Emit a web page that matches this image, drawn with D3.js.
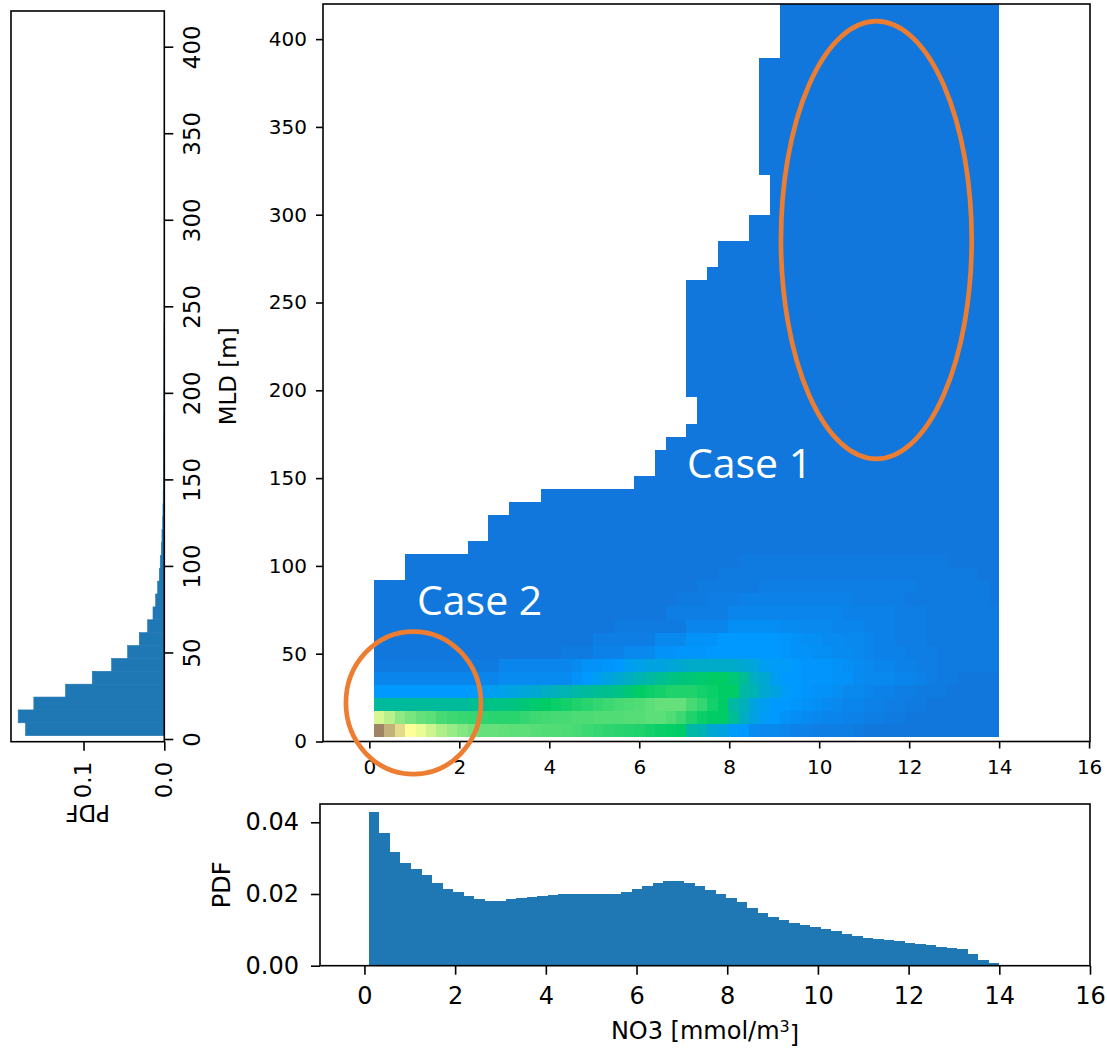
<!DOCTYPE html>
<html><head><meta charset="utf-8">
<script src="https://cdn.jsdelivr.net/npm/d3@7"></script>
<style>body{margin:0;background:#fff}svg{display:block}</style>
</head><body>
<svg id="fig" width="1107" height="1048"></svg>
<script>
// ---------------- DATA ----------------
// NO3 bins (x): 60 bins from 0.1 to 14.0 mmol/m3
const no3BinStart = 0.1, no3BinWidth = 13.9 / 60, no3BinCount = 60;
// MLD bins (y): 57 bins starting at 2.5 m
const mldBinStart = 2.5, mldBinWidth = 7.44, mldBinCount = 57;

// bottom histogram: PDF per NO3 bin
const no3Pdf = [0.0429,0.0370,0.0316,0.0287,0.0269,0.0253,0.0232,0.0214,0.0205,0.0195,
  0.0187,0.0181,0.0181,0.0186,0.0189,0.0192,0.0195,0.0197,0.0199,0.0199,
  0.0199,0.0199,0.0199,0.0201,0.0206,0.0214,0.0221,0.0230,0.0235,0.0235,
  0.0230,0.0222,0.0211,0.0199,0.0190,0.0177,0.0161,0.0146,0.0135,0.0127,
  0.0118,0.0113,0.0107,0.0102,0.0096,0.0088,0.0082,0.0078,0.0075,0.0072,
  0.0068,0.0064,0.0061,0.0057,0.0053,0.0049,0.0046,0.0033,0.0016,0.0008];

// left histogram: PDF per MLD bin
const mldPdf = [0.1718,0.1809,0.1615,0.1222,0.0892,0.0652,0.0454,0.0310,0.0206,0.0140,
  0.0107,0.0082,0.0062,0.0050,0.0037,0.0029,0.0021,0.0017,0.0014,0.0012,
  0.0010,0.0009,0.0008,0.0007,0.0006,0.0005,0.0005,0.0004,0.0004,0.0004,0.0003,0.0003];

// first occupied NO3 bin in every MLD row (white area to the left)
const rowStartCol = [0,0,0,0,0,0,0,0,0,0, 0,0,3,3,9,11,11,13,16,25,
  27,27,28,30,31,31,30,30,30,30, 30,30,30,30,30,32,33,33,36,36,
  38,38,38,37,37,37,37,37,37,37, 37,37,39,39,39,39,39];

// colour level (x100, terrain colormap position) for the lowest MLD rows
const heatRows = [
 [69,62,55.5,50,48,45,42,40,38,36.5, 35,35,34.5,34,34,33.5,33,33,32.5,32, 31,30,29.5,29,28.5,28,27,26,25.5,25, 21,20,18,17,15.5,15,13,12.5,12.5,12, 11.5,11.5,11,11,11,11,10.5,10,10,10, 10,10,10,10,10,10,10,10,10,10],
 [46,43,39,37,35,34,32,31,30.5,30, 29.5,29,29,29,30,31,31.5,32,32,32.5, 32.5,33,33,33,33.5,33.5,34,34,33,31, 28,26,25,25,22,19,17,15.5,15,14, 13.5,13,12.5,12,12,11.5,11.5,11,11,10.5, 10.5,10,10,10,10,10,10,10,10,10],
 [21.5,21.5,21.5,21.5,21.5,21.5,21.5,21.5,21.5,22, 22.5,23,23,23.5,24,24.5,25,26,27,28, 29,30,31,32,32.5,33,34,35,35,35, 32,30,27,25,21,19.5,17,16,15,15, 14.5,14,13.5,13,12.5,12,12,11.5,11.5,11, 11,10.5,10.5,10,10,10,10,10,10,10],
 [15,15,15,15,15,15,15,15,15,15, 15.5,16,16.5,17,17.5,18,19,19.5,20,21, 21.5,22,22.5,23,24,25,26,27,28,28, 28,27,26,25,25,21,20,18,17,15.5, 15,14.5,14,14,13.5,12.5,12.5,12,11.5,11.5, 11,11,10.5,10.5,10.5,10,10,10,10,10],
 [12,12,12,12,12,12,12,12,12,12, 12,12,13,13,13,13,13,13,13,14, 15,16,17,18,19,20,21,22,23,23.5, 24,24.5,25,25,24,22,19,18,16,15, 15,14.5,14.5,14.5,14,14,13,12.5,12.5,12.5, 12,12,11.5,11,10.5,10.5,10,10,10,10],
 [10.5,10.5,10.5,10.5,10.5,10.5,10.5,10.5,10.5,10.5, 10.5,10.5,12,12,12,12,12,12,12,13, 14,14,14.5,15,16,16.5,17,17,17.5,18, 18.5,18.5,18.5,18.5,18.5,18,17.5,16,15.5,15.5, 15,14.5,14.5,14.5,14,13.5,13,12.5,12,12, 11.5,11.5,11,11,10.5,10.5,10.5,10.5,10.5,10.5],
 [10,10,10,10,10,10,10,10,10,10, 10,10,10,10,10,10,10,10,10.5,10.5, 10.5,11.5,11.5,11.5,12.5,12.5,12.5,14,14,14.5, 14.5,14.5,15,15,15,15,15,15,15,14.5, 14,14,13.5,13.5,13,13,12.5,12,11.5,11.5, 11.5,11,11,11,10.5,10.5,10.5,10.5,10.5,10.5],
 [10,10,10,10,10,10,10,10,10,10, 10,10,10,10,10,10,10,10,10,10, 10,11,11,11,11,11,11,12.5,12.5,12.5, 14,14,14,15,15,15,15,15,15,14.5, 14,13.5,13.5,13,13,12.5,12.5,12,11.5,11.5, 11,11,11,10.5,10.5,10.5,10.5,10.5,10.5,10.5],
 [10,10,10,10,10,10,10,10,10,10, 10,10,10,10,10,10,10,10,10,10, 10,10,10,10.5,10.5,10.5,10.5,10.5,10.5,10.5, 12,12,12,12,13.5,13.5,13.5,13.5,13.5,13, 13,12.5,12.5,12.5,12,12,12,11.5,11.5,11.5, 11,11,11,10.5,10.5,10.5,10.5,10.5,10.5,10.5],
 [10,10,10,10,10,10,10,10,10,10, 10,10,10,10,10,10,10,10,10,10, 10,10,10,10,10,10,10,10,11,11, 11,11,11,11,12,12,12,12,12,12, 12,12,12,12,12,11.5,11.5,11.5,11.5,11.5, 11,11,11,10.5,10.5,10.5,10.5,10.5,10.5,10.5],
 [10,10,10,10,10,10,10,10,10,10, 10,10,10,10,10,10,10,10,10,10, 10,10,10,10,10,10,10,10,10,10.5, 10.5,10.5,11,11,11,11.5,11.5,11.5,11.5,11.5, 11.5,11.5,11.5,11.5,11.5,11.5,11,11,11,11, 11,10.5,10.5,10.5,10.5,10.5,10.5,10.5,10.5,10],
 [10,10,10,10,10,10,10,10,10,10, 10,10,10,10,10,10,10,10,10,10, 10,10,10,10,10,10,10,10,10,10, 10,10.5,10.5,10.5,10.5,10.5,10.5,11,11,11, 11,11,11,11,11,11,11,11,11,11, 11,11,10.5,10.5,10.5,10.5,10.5,10.5,10.5,10],
 [10,10,10,10,10,10,10,10,10,10, 10,10,10,10,10,10,10,10,10,10, 10,10,10,10,10,10,10,10,10,10, 10,10,10,10.5,10.5,10.5,10.5,10.5,10.5,10.5, 10.5,10.5,10.5,10.5,10.5,10.5,10.5,10.5,10.5,10.5, 10.5,10.5,10.5,10.5,10.5,10.5,10.5,10.5,10,10],
 [10,10,10,10,10,10,10,10,10,10, 10,10,10,10,10,10,10,10,10,10, 10,10,10,10,10,10,10,10,10,10, 10,10,10,10,10,10.5,10.5,10.5,10.5,10.5, 10.5,10.5,10.5,10.5,10.5,10.5,10.5,10.5,10.5,10.5, 10.5,10.5,10.5,10.5,10.5,10,10,10,10,10]
];
const upperLevel = 10; // all higher rows

const no3Ticks = [0,2,4,6,8,10,12,14,16];
const mldTicks = [0,50,100,150,200,250,300,350,400];
const no3PdfTicks = [0,0.02,0.04];
const mldPdfTicks = [0,0.1];

const caseLabels = [
  {text: "Case 1", no3: 7.06, mld: 149.9},
  {text: "Case 2", no3: 1.06, mld: 71.9}
];
const caseEllipses = [
  {no3: 11.27, mld: 285.6, rNo3: 2.12, rMld: 124.6},
  {no3: 0.98, mld: 22.0, rNo3: 1.50, rMld: 40.6}
];

// ---------------- LAYOUT / STYLE ----------------
const FONT = "'DejaVu Sans', sans-serif";
const BAR = "#1f77b4";
const ORANGE = "#ED7D31";
const M = {left: 323, top: 4, right: 1090, bottom: 741.5};
const B = {left: 320, top: 804, right: 1090, bottom: 965.7};
const L = {left: 11, top: 11, right: 164.3, bottom: 741.7};

const svg = d3.select("#fig");

const terrain = d3.scaleLinear()
  .domain([0, 0.15, 0.25, 0.5, 0.75, 1])
  .range(["#333399", "#0099ff", "#00cc66", "#ffff99", "#805c54", "#ffffff"])
  .interpolate(d3.interpolateRgb).clamp(true);

function styleAxis(g, fs) {
  g.select(".domain").remove();
  g.selectAll(".tick line").attr("stroke", "#000").attr("stroke-width", 1.6);
  g.selectAll(".tick text").attr("fill", "#000")
    .style("font-family", FONT).style("font-size", fs + "px");
}
function frame(g, x, y, w, h) {
  g.append("rect").attr("x", x).attr("y", y).attr("width", w).attr("height", h)
    .attr("fill", "none").attr("stroke", "#000").attr("stroke-width", 1.6);
}

// ---------------- MAIN HEATMAP ----------------
const xM = d3.scaleLinear().domain([-1.03, 16.02]).range([M.left, M.right]);
const yM = d3.scaleLinear().domain([0, 420]).range([M.bottom, M.top]);

svg.append("defs").append("clipPath").attr("id", "clipMain")
  .append("rect").attr("x", M.left).attr("y", M.top)
  .attr("width", M.right - M.left).attr("height", M.bottom - M.top);

const cells = [];
for (let k = 0; k < mldBinCount; k++) {
  for (let j = rowStartCol[k]; j < no3BinCount; j++) {
    const level = k < heatRows.length ? heatRows[k][j] : upperLevel;
    cells.push({k, j, level});
  }
}
svg.append("g").attr("clip-path", "url(#clipMain)")
  .selectAll("rect").data(cells).join("rect")
  .attr("x", d => xM(no3BinStart + d.j * no3BinWidth))
  .attr("width", d => xM(no3BinStart + (d.j + 1) * no3BinWidth) - xM(no3BinStart + d.j * no3BinWidth))
  .attr("y", d => yM(mldBinStart + (d.k + 1) * mldBinWidth))
  .attr("height", d => yM(mldBinStart + d.k * mldBinWidth) - yM(mldBinStart + (d.k + 1) * mldBinWidth))
  .attr("fill", d => terrain(d.level / 100))
  .attr("shape-rendering", "crispEdges");

frame(svg, M.left, M.top, M.right - M.left, M.bottom - M.top);
svg.append("g").attr("transform", `translate(0,${M.bottom})`)
  .call(d3.axisBottom(xM).tickValues(no3Ticks).tickFormat(d3.format("d")).tickSize(7).tickPadding(11))
  .call(g => styleAxis(g, 20));
svg.append("g").attr("transform", `translate(${M.left},0)`)
  .call(d3.axisLeft(yM).tickValues(mldTicks).tickFormat(d3.format("d")).tickSize(7).tickPadding(9))
  .call(g => styleAxis(g, 20));

// ---------------- BOTTOM HISTOGRAM ----------------
const xB = d3.scaleLinear().domain([-0.98, 16]).range([B.left, B.right]);
const yB = d3.scaleLinear().domain([0, 0.0451]).range([B.bottom, B.top]);
svg.append("g").selectAll("rect").data(no3Pdf).join("rect")
  .attr("x", (d, i) => xB(no3BinStart + i * no3BinWidth))
  .attr("width", (d, i) => xB(no3BinStart + (i + 1) * no3BinWidth) - xB(no3BinStart + i * no3BinWidth))
  .attr("y", d => yB(d))
  .attr("height", d => yB(0) - yB(d))
  .attr("fill", BAR).attr("shape-rendering", "crispEdges");
frame(svg, B.left, B.top, B.right - B.left, B.bottom - B.top);
svg.append("g").attr("transform", `translate(0,${B.bottom})`)
  .call(d3.axisBottom(xB).tickValues(no3Ticks).tickFormat(d3.format("d")).tickSize(9).tickPadding(12.5))
  .call(g => styleAxis(g, 24));
svg.append("g").attr("transform", `translate(${B.left},0)`)
  .call(d3.axisLeft(yB).tickValues(no3PdfTicks).tickFormat(d3.format(".2f")).tickSize(9).tickPadding(12))
  .call(g => styleAxis(g, 24));
svg.append("text")
  .attr("transform", `translate(221.7,${(B.top + B.bottom) / 2}) rotate(-90)`)
  .attr("text-anchor", "middle").attr("dy", "0.35em")
  .style("font-family", FONT).style("font-size", "24px").text("PDF");
const xl = svg.append("text").attr("x", (B.left + B.right) / 2).attr("y", 1039)
  .attr("text-anchor", "middle").style("font-family", FONT).style("font-size", "24px");
xl.append("tspan").text("NO3 [mmol/m");
xl.append("tspan").attr("dy", "-0.45em").style("font-size", "16px").text("3");
xl.append("tspan").attr("dy", "0.45em").text("]");

// ---------------- LEFT HISTOGRAM (rotated) ----------------
const LW = L.bottom - L.top, LH = L.right - L.left;
const gL = svg.append("g").attr("transform", `translate(${L.left},${L.bottom}) rotate(-90)`);
const xL = d3.scaleLinear().domain([-0.98, 421.2]).range([0, LW]);
const yL = d3.scaleLinear().domain([0, 0.1898]).range([LH, 0]);
gL.append("g").selectAll("rect").data(mldPdf).join("rect")
  .attr("x", (d, i) => xL(mldBinStart + i * mldBinWidth))
  .attr("width", (d, i) => xL(mldBinStart + (i + 1) * mldBinWidth) - xL(mldBinStart + i * mldBinWidth))
  .attr("y", d => yL(d))
  .attr("height", d => yL(0) - yL(d))
  .attr("fill", BAR).attr("stroke", BAR).attr("stroke-width", 0.6);
frame(gL, 0, 0, LW, LH);
gL.append("g").attr("transform", `translate(0,${LH})`)
  .call(d3.axisBottom(xL).tickValues(mldTicks).tickFormat(d3.format("d")).tickSize(9).tickPadding(10.5))
  .call(g => styleAxis(g, 23));
gL.append("g")
  .call(d3.axisLeft(yL).tickValues(mldPdfTicks).tickFormat(d3.format(".1f")).tickSize(9).tickPadding(11))
  .call(g => styleAxis(g, 23));
gL.append("text").attr("x", LW / 2).attr("y", LH + 72)
  .attr("text-anchor", "middle").style("font-family", FONT).style("font-size", "23px").text("MLD [m]");
gL.append("text")
  .attr("transform", `translate(-71.3,${LH / 2}) rotate(-90)`)
  .attr("text-anchor", "middle").attr("dy", "0.35em")
  .style("font-family", FONT).style("font-size", "23px").text("PDF");

// ---------------- ANNOTATIONS ----------------
svg.append("g").selectAll("text").data(caseLabels).join("text")
  .attr("x", d => xM(d.no3)).attr("y", d => yM(d.mld))
  .attr("fill", "#ffffff").style("font-family", "'Open Sans', sans-serif").style("font-size", "41px")
  .text(d => d.text);
svg.append("g").selectAll("ellipse").data(caseEllipses).join("ellipse")
  .attr("cx", d => xM(d.no3)).attr("cy", d => yM(d.mld))
  .attr("rx", d => xM(d.no3 + d.rNo3) - xM(d.no3))
  .attr("ry", d => yM(d.mld - d.rMld) - yM(d.mld))
  .attr("fill", "none").attr("stroke", ORANGE).attr("stroke-width", 4.7);
</script>
</body></html>
